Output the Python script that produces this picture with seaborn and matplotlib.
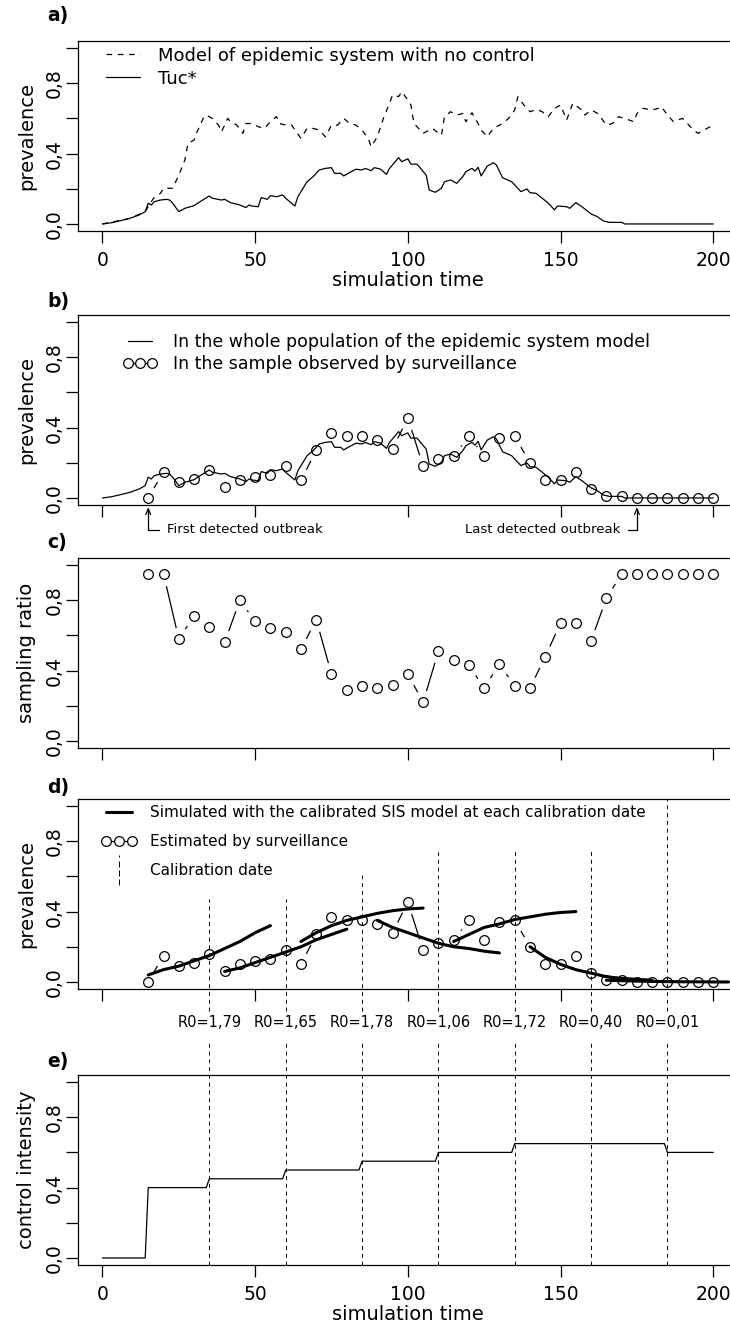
import seaborn as sns
import matplotlib.pyplot as plt
from matplotlib.lines import Line2D
from matplotlib.path import Path
from matplotlib.legend_handler import HandlerLine2D

# panel a/b: prevalence of the epidemic system model
t_free = [0, 9, 14, 15, 16, 17, 19, 20, 23, 25,
          27, 28, 30, 31, 33, 34, 36, 38, 39, 41,
          42, 44, 46, 47, 49, 51, 53, 55, 57, 58,
          60, 62, 63, 65, 67, 69, 71, 73, 75, 77,
          79, 81, 83, 85, 87, 88, 90, 92, 94, 95,
          97, 98, 100, 101, 102, 105, 107, 108, 111, 112,
          114, 116, 118, 119, 121, 123, 124, 126, 128, 131,
          133, 135, 136, 138, 140, 142, 144, 146, 148, 150,
          152, 154, 157, 158, 160, 162, 163, 165, 167, 169,
          171, 174, 175, 177, 180, 182, 183, 185, 187, 188,
          190, 192, 193, 195, 197, 199, 200]
prev_free = [0, .032, .07, .098, .127, .152, .174, .203, .203, .278,
             .364, .458, .477, .524, .60, .619, .60, .562, .524, .60,
             .581, .562, .515, .571, .571, .553, .543, .581, .61, .571,
             .562, .562, .534, .487, .543, .543, .534, .496, .562, .562,
             .60, .571, .562, .534, .487, .439, .496, .60, .686, .733,
             .724, .752, .705, .676, .572, .515, .534, .543, .505, .61,
             .638, .619, .628, .581, .632, .571, .534, .496, .543, .571,
             .60, .648, .723, .676, .638, .651, .638, .61, .657, .676,
             .591, .686, .648, .619, .648, .63, .61, .562, .571, .61,
             .60, .581, .628, .657, .648, .657, .667, .619, .581, .59,
             .60, .562, .543, .515, .534, .553, .55]

t_tuc = [0, 3, 6, 9, 12, 14, 15, 16, 17, 19,
         21, 22, 23, 25, 27, 30, 32, 35, 36, 39,
         40, 42, 45, 47, 48, 49, 51, 52, 54, 55,
         57, 59, 60, 63, 64, 66, 67, 69, 71, 73,
         75, 76, 78, 79, 81, 83, 85, 86, 88, 89,
         91, 93, 94, 97, 98, 100, 101, 103, 106, 107,
         109, 111, 112, 114, 116, 118, 119, 121, 122, 123,
         124, 126, 128, 129, 131, 134, 137, 139, 140, 142,
         146, 148, 149, 152, 153, 155, 157, 160, 162, 164,
         166, 170, 171, 200]
prev_tuc = [0, .007, .019, .032, .051, .07, .118, .108, .127, .136,
            .14, .136, .118, .07, .089, .104, .127, .159, .146, .136,
            .14, .121, .108, .093, .108, .102, .098, .15, .14, .161,
            .155, .165, .146, .102, .155, .212, .24, .269, .307, .316,
            .32, .288, .288, .273, .293, .311, .307, .316, .303, .32,
            .312, .282, .316, .377, .354, .37, .34, .34, .278, .193,
            .18, .203, .24, .25, .231, .269, .297, .316, .30, .322,
            .273, .329, .348, .335, .263, .24, .184, .199, .178, .174,
            .118, .08, .102, .098, .089, .121, .098, .057, .042, .017,
            .009, .009, 0, 0]

# surveillance, one sample every 5 time units
t_obs = list(range(15, 201, 5))
prev_obs = [0.0, .15, .09, .11, .16, .06, .10, .12, .13, .18,
            .10, .27, .37, .35, .35, .33, .28, .455, .18, .22,
            .24, .35, .24, .34, .35, .20, .10, .10, .15, .05,
            .01, .01, 0, 0, 0, 0, 0, 0]
ratio_obs = [.95, .95, .58, .71, .65, .56, .80, .68, .64, .62,
             .52, .69, .38, .29, .31, .30, .32, .38, .22, .51,
             .46, .43, .30, .44, .31, .30, .48, .67, .67, .57,
             .81, .95, .95, .95, .95, .95, .95, .95]

# SIS model runs, 40 time units from each start
sis_start = [15, 40, 65, 90, 115, 140, 165]
sis_runs = [
    [.04, .07, .09, .12, .15, .19, .23, .28, .32],
    [.06, .08, .11, .14, .17, .20, .24, .27, .30],
    [.23, .28, .32, .35, .37, .39, .405, .415, .42],
    [.35, .31, .28, .25, .22, .20, .19, .175, .165],
    [.23, .27, .31, .33, .355, .37, .385, .395, .40],
    [.20, .14, .10, .07, .05, .03, .02, .015, .01],
    [.01, .007, .005, .003, .002, .001, .001, 0, 0],
]
calib_dates = [35, 60, 85, 110, 135, 160, 185]
calib_top = [0.47, 0.47, 0.61, 0.74, 0.75, 0.76, 1.04]
r0_values = [1.79, 1.65, 1.78, 1.06, 1.72, 0.40, 0.01]

# control intensity
t_ctrl = [0, 14, 15, 34, 35, 59, 60, 84, 85, 109, 110, 134, 135, 184, 185, 200]
ctrl = [0, 0, .40, .40, .45, .45, .50, .50, .55, .55, .60, .60, .65, .65, .60, .60]

sns.set_style("ticks")
plt.rcParams['font.family'] = ['DejaVu Sans']
plt.rcParams.update({'text.color': 'black', 'axes.labelcolor': 'black',
                     'xtick.color': 'black', 'ytick.color': 'black', 'axes.edgecolor': 'black'})
LW = 0.9
MS = 7

fig = plt.figure(figsize=(7.3, 13.29), dpi=100)
W, H = 730, 1329
tops = [41, 315, 558, 799, 1075]
axes = [fig.add_axes([78 / W, 1 - (t + 190) / H, 659.7 / W, 190 / H]) for t in tops]


def style(ax, xlab):
    ax.set_xlim(-8, 208)
    ax.set_ylim(-0.04, 1.04)
    ax.set_xticks([0, 50, 100, 150, 200])
    ax.set_yticks([0, .2, .4, .6, .8, 1.0])
    ax.set_yticklabels(['0,0', '', '0,4', '', '0,8', ''])
    if xlab:
        ax.set_xticklabels(['0', '50', '100', '150', '200'])
        ax.set_xlabel('simulation time', fontsize=14, labelpad=0.5)
    else:
        ax.set_xticklabels([])
    ax.tick_params(length=8.5, width=LW, labelsize=13.5, colors='black')
    ax.tick_params(axis='x', pad=6)
    ax.tick_params(axis='y', pad=1.5, labelrotation=90)
    for lab in ax.get_yticklabels():
        lab.set_va('center')
    for s in ax.spines.values():
        s.set_linewidth(LW)
        s.set_color('black')
        s.set_visible(True)


def sampled(ax, y):
    # R type="b": segments broken around each point
    ax.plot(t_obs, y, color='black', lw=LW, zorder=1)
    ax.plot(t_obs, y, ls='none', marker='o', ms=17, mfc='white', mec='none', zorder=1.5)
    ax.plot(t_obs, y, ls='none', marker='o', ms=MS, mfc='none', mec='black', mew=LW, zorder=4)


# a)
ax = axes[0]
sns.lineplot(x=t_free, y=prev_free, ax=ax, color='black', lw=LW, linestyle='--', errorbar=None)
ax.lines[-1].set_dashes((4.5, 4.5))
sns.lineplot(x=t_tuc, y=prev_tuc, ax=ax, color='black', lw=LW, errorbar=None)
style(ax, True)
ax.set_ylabel('prevalence', fontsize=14, labelpad=6.5)
ha = [Line2D([], [], color='black', lw=LW, dashes=(4.5, 4.5)), Line2D([], [], color='black', lw=LW)]
ax.legend(ha, ['Model of epidemic system with no control', 'Tuc*'], loc='upper left',
          bbox_to_anchor=(0.0424, 0.971), frameon=False, fontsize=13, handlelength=1.9,
          handletextpad=1.0, labelspacing=0.28, borderpad=0, borderaxespad=0)

# b)
ax = axes[1]
sampled(ax, prev_obs)
sns.lineplot(x=t_tuc, y=prev_tuc, ax=ax, color='black', lw=LW, errorbar=None, zorder=3)
style(ax, False)
ax.set_ylabel('prevalence', fontsize=14, labelpad=6.5)
hb = [Line2D([], [], color='black', lw=LW),
      Line2D([], [], color='black', lw=LW, marker='o', ms=MS, mfc='white', mec='black', mew=LW)]
ax.legend(hb, ['In the whole population of the epidemic system model',
               'In the sample observed by surveillance'], loc='upper left',
          bbox_to_anchor=(0.068, 0.905), frameon=False, fontsize=12.5, handlelength=2.0,
          handletextpad=0.86, labelspacing=0.23, borderpad=0, borderaxespad=0, numpoints=3)
arrow = dict(arrowstyle='->,head_length=0.45,head_width=0.18', lw=LW, color='black', shrinkA=3, shrinkB=0)
ax.annotate('First detected outbreak', xy=(15, -0.01), xycoords=('data', 'axes fraction'),
            xytext=(21, -0.13), textcoords=('data', 'axes fraction'), ha='left', va='center',
            fontsize=9.5, annotation_clip=False,
            arrowprops=dict(arrow, connectionstyle='angle,angleA=0,angleB=90,rad=0', relpos=(0, 0.5)))
ax.annotate('Last detected outbreak', xy=(175, -0.01), xycoords=('data', 'axes fraction'),
            xytext=(169.5, -0.13), textcoords=('data', 'axes fraction'), ha='right', va='center',
            fontsize=9.5, annotation_clip=False,
            arrowprops=dict(arrow, connectionstyle='angle,angleA=0,angleB=90,rad=0', relpos=(1, 0.5)))

# c)
ax = axes[2]
sampled(ax, ratio_obs)
style(ax, False)
ax.set_ylabel('sampling ratio', fontsize=14, labelpad=6.5)

# d)
ax = axes[3]
sampled(ax, prev_obs)
for start, run in zip(sis_start, sis_runs):
    sns.lineplot(x=list(range(start, start + 41, 5)), y=run, ax=ax, color='black', lw=2.2,
                 errorbar=None, zorder=3)
ax.vlines(calib_dates, -0.165, calib_top, colors='black', linestyles=(0, (4, 4)), lw=0.7,
          clip_on=False, zorder=3)
for d, r0 in zip(calib_dates, r0_values):
    ax.text(d, -0.175, 'R0=' + f'{r0:.2f}'.replace('.', ','), transform=ax.get_xaxis_transform(),
            ha='center', va='center', fontsize=10.5)
style(ax, False)
ax.set_ylabel('prevalence', fontsize=14, labelpad=6.5)
dash_marker = Path([(0, -1), (0, -0.62), (0, -0.38), (0, 0.0), (0, 0.24), (0, 0.62), (0, 0.86), (0, 1)],
                   [Path.MOVETO, Path.LINETO] * 4)
hd = [Line2D([], [], color='black', lw=2.2),
      Line2D([], [], color='black', lw=LW, marker='o', ms=MS, mfc='white', mec='black', mew=LW),
      Line2D([], [], ls='none', marker=dash_marker, ms=21, mec='black', mfc='none', mew=0.7)]
ax.legend(hd, ['Simulated with the calibrated SIS model at each calibration date',
               'Estimated by surveillance', 'Calibration date'], loc='upper left',
          bbox_to_anchor=(0.035, 0.968), frameon=False, fontsize=11, handlelength=2.35,
          handletextpad=0.85, labelspacing=0.93, borderpad=0, borderaxespad=0, numpoints=3,
          handler_map={hd[2]: HandlerLine2D(numpoints=1)})

# e)
ax = axes[4]
sns.lineplot(x=t_ctrl, y=ctrl, ax=ax, color='black', lw=LW, errorbar=None, sort=False)
ax.vlines(calib_dates, -0.04, 1.22, colors='black', linestyles=(0, (4, 4)), lw=0.7,
          clip_on=False, zorder=3)
style(ax, True)
ax.set_ylabel('control intensity', fontsize=14, labelpad=6.5)

for lab, y in zip(['a)', 'b)', 'c)', 'd)', 'e)'], [16, 302, 543, 787, 1062]):
    fig.text(47 / W, 1 - y / H, lab, ha='left', va='center', fontsize=13.5, fontweight='bold')

fig.savefig('out.png', dpi=100)
